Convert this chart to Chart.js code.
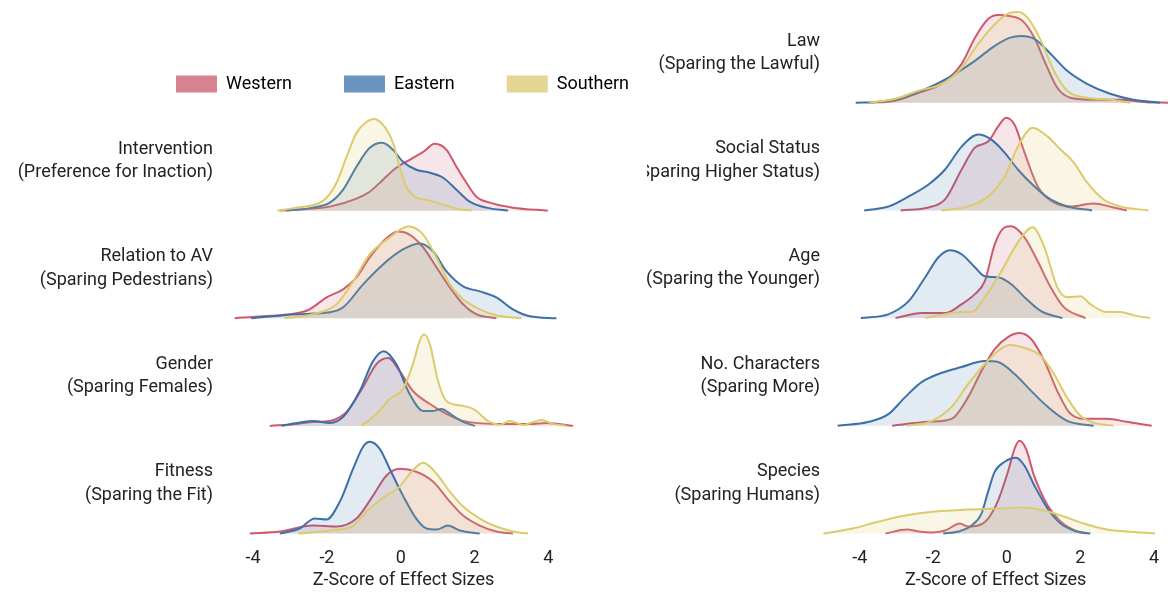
<!DOCTYPE html>
<html>
<head>
<meta charset="utf-8">
<script src="https://cdn.jsdelivr.net/npm/chart.js@4.4.1/dist/chart.umd.min.js"></script>
<style>
  body { margin: 0; background: #fff; }
  #wrap { position: relative; width: 1172px; height: 594px; overflow: hidden; }
  canvas { position: absolute; top: 0; }
  #left { left: 0; }
  #right { left: 647px; }
</style>
</head>
<body>
<div id="wrap">
  <canvas id="left" width="805" height="594"></canvas>
  <canvas id="right" width="525" height="594"></canvas>
</div>
<script>
const groups = ["Western", "Eastern", "Southern"];
const xTicks = [-4, -2, 0, 2, 4];

const leftLabels = [
  ["Intervention", "(Preference for Inaction)"],
  ["Relation to AV", "(Sparing Pedestrians)"],
  ["Gender", "(Sparing Females)"],
  ["Fitness", "(Sparing the Fit)"],
];
const rightLabels = [
  ["Law", "(Sparing the Lawful)"],
  ["Social Status", "(Sparing Higher Status)"],
  ["Age", "(Sparing the Younger)"],
  ["No. Characters", "(Sparing More)"],
  ["Species", "(Sparing Humans)"],
];

// density curves: [z-score, density]
const interventionWestern = [[-3.28,0],[-1.92,0.04],[-1.2,0.12],[-0.84,0.19],[-0.48,0.31],[-0.12,0.43],[0.24,0.51],[0.61,0.59],[0.92,0.67],[1.24,0.61],[1.51,0.44],[1.78,0.28],[2.05,0.14],[2.41,0.08],[3.04,0.03],[3.99,0]];
const interventionEastern = [[-3.1,0],[-2.38,0.03],[-1.92,0.08],[-1.56,0.21],[-1.2,0.44],[-0.84,0.63],[-0.5,0.68],[-0.21,0.61],[0.06,0.49],[0.42,0.41],[0.79,0.38],[1.15,0.33],[1.51,0.21],[1.87,0.09],[2.32,0.03],[2.91,0]];
const interventionSouthern = [[-3.34,0],[-2.83,0.03],[-2.1,0.1],[-1.74,0.28],[-1.47,0.54],[-1.2,0.78],[-0.93,0.89],[-0.73,0.92],[-0.48,0.86],[-0.21,0.68],[-0.03,0.44],[0.15,0.24],[0.38,0.14],[0.79,0.1],[1.06,0.07],[1.51,0.02],[1.92,0]];

const relationWestern = [[-4.5,0],[-3.73,0.02],[-2.83,0.05],[-2.47,0.09],[-2.01,0.21],[-1.56,0.29],[-1.2,0.41],[-0.84,0.61],[-0.48,0.77],[-0.07,0.87],[0.24,0.84],[0.61,0.71],[0.97,0.51],[1.33,0.31],[1.69,0.14],[2.05,0.04],[2.59,0]];
const relationEastern = [[-4.05,0],[-2.83,0.04],[-1.92,0.06],[-1.56,0.11],[-1.02,0.34],[-0.48,0.54],[0.06,0.69],[0.51,0.75],[0.88,0.67],[1.24,0.47],[1.69,0.32],[2.14,0.27],[2.59,0.21],[3.04,0.09],[3.5,0.02],[4.22,0]];
const relationSouthern = [[-3.14,0],[-2.38,0.04],[-1.74,0.14],[-1.29,0.37],[-0.84,0.64],[-0.3,0.81],[0.2,0.92],[0.61,0.84],[0.97,0.61],[1.33,0.34],[1.69,0.19],[2.14,0.09],[2.59,0.03],[3.27,0]];

const genderWestern = [[-3.55,0],[-2.83,0.02],[-2.38,0.04],[-1.92,0.05],[-1.47,0.14],[-1.02,0.39],[-0.66,0.62],[-0.34,0.68],[-0.03,0.55],[0.33,0.35],[0.79,0.22],[1.24,0.12],[1.69,0.05],[2.59,0.02],[3.5,0.02],[3.95,0.03],[4.67,0]];
const genderEastern = [[-3.23,0],[-2.38,0.05],[-1.92,0.03],[-1.56,0.09],[-1.11,0.35],[-0.75,0.65],[-0.46,0.75],[-0.12,0.62],[0.24,0.32],[0.61,0.15],[0.88,0.15],[1.1,0.17],[1.42,0.1],[1.69,0.04],[2.01,0]];
const genderSouthern = [[-1.07,0],[-0.66,0.12],[-0.3,0.27],[0.06,0.37],[0.33,0.62],[0.51,0.85],[0.63,0.92],[0.79,0.82],[1.01,0.45],[1.24,0.25],[1.69,0.2],[1.96,0.17],[2.41,0.04],[2.68,0.01],[2.95,0.05],[3.32,0.01],[3.81,0.06],[4.13,0.02],[4.49,0]];

const fitnessWestern = [[-4.09,0],[-3.28,0.02],[-2.38,0.08],[-1.74,0.07],[-1.2,0.15],[-0.75,0.38],[-0.39,0.58],[-0.03,0.65],[0.42,0.62],[0.88,0.52],[1.33,0.32],[1.69,0.18],[2.14,0.08],[2.59,0.02],[3.04,0]];
const fitnessEastern = [[-3.28,0],[-2.74,0.05],[-2.33,0.15],[-2.01,0.14],[-1.65,0.32],[-1.29,0.65],[-1.02,0.87],[-0.84,0.92],[-0.57,0.85],[-0.3,0.65],[0.06,0.38],[0.42,0.15],[0.7,0.05],[0.97,0.04],[1.28,0.08],[1.6,0.03],[2.14,0]];
const fitnessSouthern = [[-2.78,0],[-1.92,0.03],[-1.29,0.08],[-0.84,0.25],[-0.39,0.38],[-0.03,0.47],[0.29,0.62],[0.61,0.71],[0.97,0.6],[1.33,0.42],[1.69,0.27],[2.14,0.15],[2.59,0.07],[3.04,0.02],[3.45,0]];

const lawWestern = [[-3.75,0],[-3.03,0.02],[-2.4,0.1],[-1.77,0.19],[-1.23,0.39],[-0.87,0.65],[-0.51,0.84],[-0.24,0.88],[0.07,0.87],[0.43,0.82],[0.75,0.65],[1.02,0.42],[1.37,0.15],[1.73,0.05],[2.36,0.03],[3.08,0.03],[3.8,0.005],[4.38,0]];
const lawEastern = [[-4.11,0],[-3.48,0.01],[-2.85,0.05],[-2.13,0.15],[-1.41,0.29],[-0.87,0.42],[-0.33,0.57],[0.07,0.65],[0.39,0.67],[0.75,0.64],[1.19,0.49],[1.64,0.32],[2.18,0.19],[2.81,0.09],[3.44,0.03],[4.16,0]];
const lawSouthern = [[-3.75,0],[-3.03,0.04],[-2.4,0.12],[-1.77,0.19],[-1.23,0.35],[-0.78,0.59],[-0.24,0.82],[0.07,0.9],[0.3,0.91],[0.57,0.85],[0.93,0.62],[1.28,0.32],[1.64,0.12],[2.18,0.05],[2.81,0.03],[3.35,0]];

const statusWestern = [[-2.89,0],[-2.13,0.03],[-1.68,0.11],[-1.23,0.41],[-0.87,0.63],[-0.51,0.69],[-0.24,0.84],[-0.02,0.93],[0.21,0.86],[0.48,0.58],[0.84,0.24],[1.28,0.08],[1.73,0.04],[2.36,0.07],[2.9,0.03],[3.26,0]];
const statusEastern = [[-3.88,0],[-3.21,0.04],[-2.67,0.14],[-2.13,0.26],[-1.68,0.41],[-1.23,0.64],[-0.78,0.76],[-0.42,0.71],[-0.06,0.58],[0.3,0.41],[0.75,0.24],[1.19,0.11],[1.64,0.04],[2.32,0]];
const statusSouthern = [[-1.77,0],[-1.05,0.04],[-0.51,0.14],[-0.06,0.34],[0.3,0.64],[0.7,0.83],[1.11,0.74],[1.46,0.61],[1.82,0.48],[2.18,0.28],[2.63,0.11],[3.08,0.04],[3.85,0]];

const ageWestern = [[-3.03,0],[-2.31,0.05],[-1.68,0.05],[-1.23,0.14],[-0.87,0.24],[-0.6,0.37],[-0.33,0.74],[-0.06,0.91],[0.12,0.92],[0.48,0.81],[0.84,0.57],[1.19,0.31],[1.55,0.11],[2.14,0]];
const ageEastern = [[-3.97,0],[-3.21,0.04],[-2.67,0.17],[-2.22,0.41],[-1.86,0.61],[-1.55,0.68],[-1.23,0.64],[-0.87,0.51],[-0.6,0.42],[-0.24,0.41],[0.12,0.34],[0.48,0.21],[0.93,0.07],[1.51,0]];
const ageSouthern = [[-2.22,0],[-1.68,0.04],[-1.23,0.06],[-0.96,0.06],[-0.6,0.21],[-0.15,0.47],[0.3,0.76],[0.7,0.91],[1.02,0.71],[1.37,0.31],[1.64,0.21],[2.0,0.22],[2.27,0.14],[2.72,0.06],[3.08,0.06],[3.44,0.03],[3.89,0]];

const ncharWestern = [[-3.12,0],[-2.13,0.04],[-1.5,0.07],[-1.05,0.29],[-0.69,0.55],[-0.33,0.77],[0.03,0.89],[0.34,0.93],[0.66,0.87],[1.02,0.65],[1.37,0.35],[1.73,0.12],[2.18,0.07],[2.72,0.07],[3.26,0.04],[3.94,0]];
const ncharEastern = [[-4.6,0],[-3.75,0.04],[-3.21,0.12],[-2.76,0.29],[-2.31,0.44],[-1.86,0.52],[-1.23,0.59],[-0.6,0.65],[-0.24,0.64],[0.21,0.52],[0.66,0.35],[1.11,0.19],[1.64,0.05],[2.36,0]];
const ncharSouthern = [[-2.71,0],[-2.04,0.05],[-1.5,0.19],[-1.05,0.42],[-0.6,0.62],[-0.24,0.75],[0.07,0.81],[0.57,0.77],[0.93,0.7],[1.28,0.52],[1.64,0.28],[2.0,0.1],[2.36,0.03],[2.9,0]];

const speciesWestern = [[-3.3,0],[-2.71,0.04],[-2.4,0.02],[-2.04,0.01],[-1.68,0.03],[-1.28,0.1],[-1.05,0.07],[-0.78,0.08],[-0.51,0.15],[-0.24,0.33],[0.03,0.62],[0.21,0.85],[0.34,0.93],[0.52,0.85],[0.74,0.58],[1.11,0.28],[1.46,0.12],[1.91,0.02],[2.18,0]];
const speciesEastern = [[-1.73,0],[-1.32,0.02],[-0.96,0.08],[-0.69,0.2],[-0.51,0.42],[-0.33,0.62],[-0.06,0.72],[0.25,0.76],[0.48,0.68],[0.75,0.48],[1.11,0.25],[1.46,0.1],[1.82,0.03],[2.27,0]];
const speciesSouthern = [[-4.99,0],[-4.2,0.05],[-3.48,0.12],[-2.76,0.18],[-1.95,0.22],[-1.05,0.24],[-0.15,0.25],[0.39,0.26],[1.02,0.23],[1.55,0.17],[2.09,0.1],[2.72,0.04],[3.26,0.02],[4.03,0]];

const lineColors = ["#cc5a6c", "#3d70a8", "#dccb6c"];
const fillColors = ["rgba(204,90,108,0.15)", "rgba(61,112,168,0.15)", "rgba(220,203,108,0.17)"];
const swatchColors = ["#d6838f", "#6994bd", "#e3d592"];
const textColor = "#232323";
const rowGap = 1.08;

Chart.defaults.font.family = "Roboto";
Chart.defaults.font.size = 18;
Chart.defaults.color = textColor;

function ridgeChart(id, labels, rows, cfg) {
  const n = labels.length;
  const datasets = [];
  rows.forEach((row, r) => {
    const base = (n - 1 - r) * rowGap;
    row.forEach((pts, g) => {
      datasets.push({
        label: groups[g],
        data: pts.map((p) => ({ x: p[0], y: base + p[1] })),
        borderColor: lineColors[g],
        backgroundColor: fillColors[g],
        borderWidth: 2,
        pointRadius: 0,
        cubicInterpolationMode: "monotone",
        fill: { value: base },
        order: 3 - g,
      });
    });
  });

  const scales = {
    x: {
      type: "linear",
      min: cfg.xMin,
      max: cfg.xMax,
      grid: { display: false, drawTicks: false },
      border: { display: false },
      ticks: { padding: 13, color: textColor },
      afterBuildTicks: (s) => { s.ticks = xTicks.map((v) => ({ value: v })); },
      afterFit: (s) => { s.height = 59; },
      title: {
        display: true,
        text: "Z-Score of Effect Sizes",
        color: textColor,
        padding: { top: 2, bottom: 3 },
      },
    },
    y: {
      type: "linear",
      min: -0.015,
      max: cfg.yMax,
      grid: { display: false, drawTicks: false },
      border: { display: false },
      ticks: {
        autoSkip: false,
        padding: cfg.labelPad,
        color: textColor,
        font: { size: 18, lineHeight: 1.3 },
        callback: (v, i) => labels[i],
      },
      afterBuildTicks: (s) => {
        s.ticks = labels.map((l, r) => ({ value: (n - 1 - r) * rowGap + 0.5 }));
      },
      afterFit: (s) => {
        s.width = cfg.axisWidth;
        s.paddingTop = 0;
        s.paddingBottom = 0;
      },
    },
  };
  if (cfg.padRight) {
    scales.pad = {
      type: "linear",
      position: "right",
      grid: { display: false, drawTicks: false },
      border: { display: false },
      ticks: { display: false },
      afterFit: (s) => { s.width = cfg.padRight; },
    };
  }

  return new Chart(id, {
    type: "line",
    data: { datasets },
    options: {
      responsive: false,
      animation: false,
      layout: { padding: { top: cfg.padTop } },
      scales,
      plugins: {
        tooltip: { enabled: false },
        legend: {
          display: cfg.legend,
          position: "top",
          align: "center",
          labels: {
            boxWidth: 41,
            boxHeight: 17,
            padding: 52,
            color: textColor,
            font: { size: 18 },
            generateLabels: () =>
              groups.map((g, i) => ({
                text: g,
                fillStyle: swatchColors[i],
                strokeStyle: swatchColors[i],
                lineWidth: 0,
                hidden: false,
                datasetIndex: i,
              })),
          },
        },
      },
    },
  });
}

ridgeChart("left", leftLabels, [
  [interventionWestern, interventionEastern, interventionSouthern],
  [relationWestern, relationEastern, relationSouthern],
  [genderWestern, genderEastern, genderSouthern],
  [fitnessWestern, fitnessEastern, fitnessSouthern],
], { xMin: -4.6, xMax: 4.75, yMax: 4.32, axisWidth: 231, labelPad: 18, padRight: 229, padTop: 23, legend: true });

ridgeChart("right", rightLabels, [
  [lawWestern, lawEastern, lawSouthern],
  [statusWestern, statusEastern, statusSouthern],
  [ageWestern, ageEastern, ageSouthern],
  [ncharWestern, ncharEastern, ncharSouthern],
  [speciesWestern, speciesEastern, speciesSouthern],
], { xMin: -5.0, xMax: 4.39, yMax: 5.35, axisWidth: 176, labelPad: 3, padRight: 0, padTop: 0, legend: false });
</script>
</body>
</html>
